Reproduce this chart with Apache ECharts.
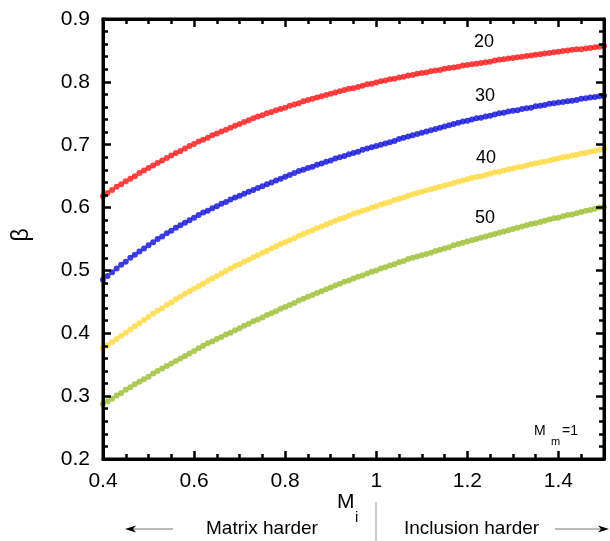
<!DOCTYPE html>
<html><head><meta charset="utf-8">
<script src="https://cdn.jsdelivr.net/npm/echarts@6/dist/echarts.min.js"></script>
<style>html,body{margin:0;padding:0;background:#fff}
#wrap{position:relative;width:610px;height:541px}
#c,#g{position:absolute;left:0;top:0;width:610px;height:541px}
#g{pointer-events:none}</style>
</head><body><div id="wrap"><div id="c"></div><div id="g"></div></div>
<script>
// M_i values (x axis)
const xs = [0.40,0.41,0.42,0.43,0.44,0.45,0.46,0.47,0.48,0.49,
0.50,0.51,0.52,0.53,0.54,0.55,0.56,0.57,0.58,0.59,
0.60,0.61,0.62,0.63,0.64,0.65,0.66,0.67,0.68,0.69,
0.70,0.71,0.72,0.73,0.74,0.75,0.76,0.77,0.78,0.79,
0.80,0.81,0.82,0.83,0.84,0.85,0.86,0.87,0.88,0.89,
0.90,0.91,0.92,0.93,0.94,0.95,0.96,0.97,0.98,0.99,
1.00,1.01,1.02,1.03,1.04,1.05,1.06,1.07,1.08,1.09,
1.10,1.11,1.12,1.13,1.14,1.15,1.16,1.17,1.18,1.19,
1.20,1.21,1.22,1.23,1.24,1.25,1.26,1.27,1.28,1.29,
1.30,1.31,1.32,1.33,1.34,1.35,1.36,1.37,1.38,1.39,
1.40,1.41,1.42,1.43,1.44,1.45,1.46,1.47,1.48,1.49,1.50];

// beta for curve labelled 20
const beta20 = [0.618,0.623,0.628,0.633,0.637,0.642,0.646,0.650,0.655,0.659,
0.663,0.667,0.671,0.675,0.679,0.683,0.687,0.690,0.694,0.698,
0.701,0.705,0.708,0.711,0.715,0.718,0.721,0.724,0.727,0.730,
0.733,0.736,0.739,0.742,0.745,0.747,0.750,0.752,0.755,0.757,
0.759,0.762,0.764,0.766,0.769,0.771,0.773,0.775,0.777,0.779,
0.781,0.783,0.785,0.787,0.789,0.790,0.792,0.794,0.796,0.797,
0.799,0.801,0.802,0.804,0.805,0.807,0.808,0.810,0.811,0.813,
0.814,0.815,0.817,0.818,0.819,0.821,0.822,0.823,0.824,0.826,
0.827,0.828,0.829,0.830,0.831,0.832,0.834,0.835,0.836,0.837,
0.838,0.839,0.840,0.841,0.842,0.843,0.844,0.845,0.846,0.847,
0.848,0.849,0.850,0.851,0.852,0.852,0.853,0.854,0.855,0.856,0.857];

// beta for curve labelled 30
const beta30 = [0.485,0.491,0.497,0.503,0.509,0.514,0.520,0.525,0.530,0.535,
0.540,0.545,0.550,0.554,0.559,0.563,0.568,0.572,0.576,0.580,
0.584,0.588,0.592,0.595,0.599,0.602,0.606,0.609,0.613,0.616,
0.619,0.622,0.625,0.628,0.631,0.634,0.637,0.640,0.643,0.646,
0.649,0.652,0.655,0.658,0.660,0.663,0.665,0.668,0.670,0.673,
0.675,0.678,0.680,0.682,0.685,0.687,0.689,0.692,0.694,0.696,
0.698,0.700,0.702,0.704,0.706,0.709,0.711,0.713,0.715,0.717,
0.719,0.721,0.723,0.725,0.727,0.729,0.731,0.733,0.735,0.737,
0.738,0.740,0.742,0.743,0.745,0.746,0.748,0.750,0.751,0.753,
0.754,0.755,0.757,0.758,0.759,0.761,0.762,0.763,0.765,0.766,
0.767,0.768,0.769,0.770,0.771,0.773,0.774,0.775,0.776,0.777,0.778];

// beta for curve labelled 40
const beta40 = [0.376,0.381,0.386,0.391,0.396,0.401,0.406,0.411,0.416,0.421,
0.426,0.431,0.436,0.440,0.445,0.449,0.454,0.458,0.463,0.467,
0.471,0.475,0.479,0.483,0.487,0.491,0.495,0.499,0.503,0.507,
0.510,0.514,0.517,0.521,0.524,0.528,0.531,0.535,0.538,0.542,
0.545,0.548,0.551,0.555,0.558,0.561,0.564,0.567,0.570,0.573,
0.576,0.579,0.582,0.584,0.587,0.590,0.592,0.595,0.597,0.600,
0.602,0.605,0.607,0.609,0.612,0.614,0.616,0.619,0.621,0.623,
0.625,0.627,0.629,0.631,0.633,0.635,0.637,0.639,0.641,0.643,
0.645,0.647,0.649,0.650,0.652,0.654,0.656,0.657,0.659,0.661,
0.662,0.664,0.665,0.667,0.669,0.670,0.672,0.673,0.675,0.677,
0.678,0.680,0.681,0.683,0.684,0.686,0.687,0.689,0.690,0.692,0.693];

// beta for curve labelled 50
const beta50 = [0.287,0.292,0.296,0.301,0.305,0.310,0.314,0.319,0.323,0.327,
0.331,0.336,0.340,0.344,0.348,0.352,0.356,0.360,0.364,0.368,
0.372,0.376,0.380,0.384,0.387,0.391,0.394,0.398,0.401,0.405,
0.408,0.412,0.415,0.419,0.422,0.425,0.429,0.432,0.435,0.439,
0.442,0.445,0.448,0.452,0.455,0.458,0.461,0.464,0.467,0.470,
0.473,0.476,0.479,0.482,0.484,0.487,0.490,0.492,0.495,0.498,
0.500,0.503,0.505,0.508,0.510,0.513,0.515,0.518,0.520,0.522,
0.524,0.526,0.528,0.531,0.533,0.535,0.537,0.540,0.542,0.544,
0.546,0.548,0.550,0.552,0.554,0.556,0.558,0.560,0.562,0.564,
0.566,0.568,0.570,0.572,0.574,0.575,0.577,0.579,0.581,0.583,
0.584,0.586,0.588,0.589,0.591,0.593,0.595,0.596,0.598,0.600,0.601];

const curveNames = ['20','30','40','50'];
const curves = [beta20, beta30, beta40, beta50];
const curveColors = ['#ff1414','#0b0bd8','#ffd83a','#9bbd2e'];

const FONT = '"Liberation Sans", Arial, sans-serif';
const gridRect = {left:103, right:6, top:19, bottom:82};

// ---- main chart: data and tick labels ----
const chart = echarts.init(document.getElementById('c'));
chart.setOption({
  animation:false,
  grid:Object.assign({}, gridRect),
  xAxis:{
    type:'value', min:0.4, max:1.5, interval:0.2,
    axisLine:{show:false}, axisTick:{show:false},
    axisLabel:{show:true, showMaxLabel:false, margin:12, color:'#000', fontSize:21, fontFamily:FONT},
    splitLine:{show:false}
  },
  yAxis:{
    type:'value', min:0.2, max:0.9, interval:0.1,
    axisLine:{show:false}, axisTick:{show:false},
    axisLabel:{show:true, margin:13, color:'#000', fontSize:21, fontFamily:FONT,
      formatter:function(v){return v.toFixed(1);}},
    splitLine:{show:false}
  },
  series: curves.map((arr, k) => ({
    type:'scatter', name:curveNames[k],
    symbol:'circle', symbolSize:6,
    itemStyle:{color:curveColors[k]},
    data: xs.map((x, i) => [x, arr[i]])
  }))
});

// ---- overlay chart: frame, inward ticks, annotations ----
function frameX(gridIndex, position, interval, tickLen, showLine) {
  return {
    type:'value', gridIndex:gridIndex, position:position, min:0.4, max:1.5, interval:interval,
    axisLine:{show:showLine, lineStyle:{color:'#000', width:3}},
    axisTick:{show:true, inside:true, length:tickLen, lineStyle:{color:'#000', width:2.5}},
    axisLabel:{show:false}, splitLine:{show:false}
  };
}
function frameY(gridIndex, position, showTicks) {
  return {
    type:'value', gridIndex:gridIndex, position:position, min:0.2, max:0.9, interval:0.1,
    axisLine:{show:showTicks, lineStyle:{color:'#000', width:3}},
    axisTick:{show:showTicks, inside:true, length:8, lineStyle:{color:'#000', width:2.5}},
    minorTick:{show:showTicks, splitNumber:5, length:5, lineStyle:{color:'#000', width:2.5}},
    axisLabel:{show:false}, splitLine:{show:false}
  };
}
const txt = (text, x, y, size, align, extra) => Object.assign({
  type:'text', x:x, y:y, silent:true,
  style:{text:text, fontSize:size, fontFamily:FONT, fill:'#000', align:align||'left', verticalAlign:'middle'}
}, extra||{});
const seg = (x1, y1, x2, y2, w, c) => ({type:'line', silent:true, shape:{x1:x1, y1:y1, x2:x2, y2:y2}, style:{stroke:c, lineWidth:w}});

const overlay = echarts.init(document.getElementById('g'));
overlay.setOption({
  animation:false,
  grid:[ Object.assign({}, gridRect), Object.assign({}, gridRect) ],
  xAxis:[
    frameX(0, 'bottom', 0.2, 8, true),
    frameX(0, 'top', 0.2, 8, true),
    frameX(1, 'bottom', 0.05, 5, false),
    frameX(1, 'top', 0.05, 5, false)
  ],
  yAxis:[ frameY(0, 'left', true), frameY(0, 'right', true), frameY(1, 'left', false) ],
  series:[],
  graphic:[
    {type:'rect', silent:true, shape:{x:103, y:19, width:501, height:440}, style:{fill:'none', stroke:'#000', lineWidth:3}},
    txt('β', 22, 235, 23, 'center', {rotation:Math.PI/2}),
    txt(curveNames[0], 484, 42, 18, 'center'),
    txt(curveNames[1], 485, 96, 18, 'center'),
    txt(curveNames[2], 486, 158, 18, 'center'),
    txt(curveNames[3], 485, 218, 18, 'center'),
    txt('M', 534, 431, 14, 'left'),
    txt('m', 551, 442, 11, 'left'),
    txt('=1', 562, 431, 14, 'left'),
    txt('M', 337, 502, 21, 'left'),
    txt('i', 355, 518, 15, 'left'),
    txt('Matrix harder', 206, 529, 19, 'left'),
    txt('Inclusion harder', 404, 529, 19, 'left'),
    seg(376, 502, 376, 541, 1, '#999'),
    seg(130, 529, 173, 529, 1, '#777'),
    {type:'polygon', silent:true, shape:{points:[[125,529],[136,525.5],[133,529],[136,532.5]]}, style:{fill:'#000'}},
    seg(555, 529, 604, 529, 1, '#777'),
    {type:'polygon', silent:true, shape:{points:[[609,529],[598,525.5],[601,529],[598,532.5]]}, style:{fill:'#000'}}
  ]
});
</script>
</body></html>
